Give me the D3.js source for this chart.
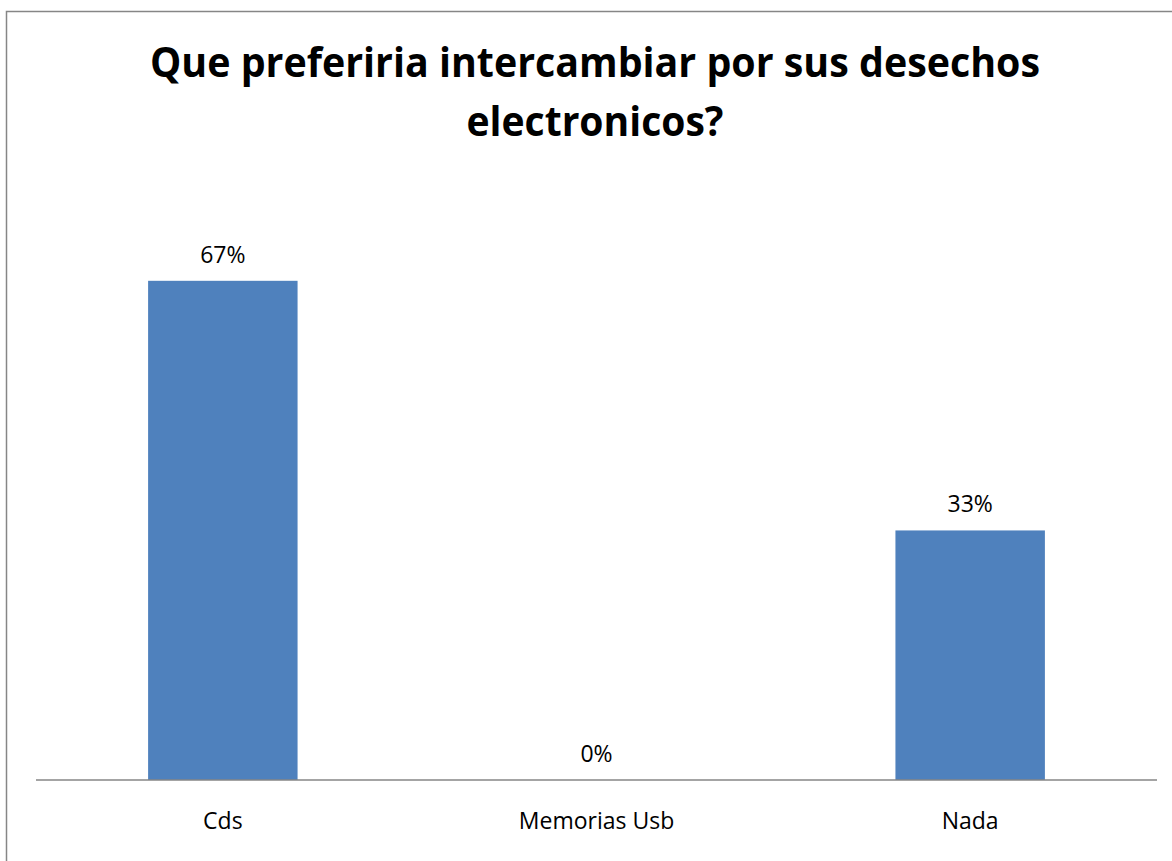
<!DOCTYPE html>
<html>
<head>
<meta charset="utf-8">
<script src="https://cdn.jsdelivr.net/npm/d3@7"></script>
<style>
  html, body { margin: 0; padding: 0; background: #ffffff; }
  svg { display: block; }
</style>
</head>
<body>
<svg id="chart" width="1172" height="861"></svg>
<script>
// Survey results: preferred exchange for electronic waste
const categories = ["Cds", "Memorias Usb", "Nada"];
const values = [0.6667, 0, 0.3333];
const valueLabels = ["67%", "0%", "33%"];
const titleLines = ["Que preferiria intercambiar por sus desechos", "electronicos?"];

const W = 1172, H = 861;
const plot = { left: 36, right: 1157, top: 181, bottom: 780 };
const barColor = "#4f81bd";
const lineColor = "#868686";
const font = "'Open Sans', 'Liberation Sans', sans-serif";

const svg = d3.select("#chart");

// Chart frame (extends past the right and bottom edges)
svg.append("rect")
  .attr("x", 6.5).attr("y", 11.5)
  .attr("width", W + 20).attr("height", H + 20)
  .attr("fill", "#ffffff")
  .attr("stroke", lineColor)
  .attr("stroke-width", 1.5);

// Title, each line fitted to its set width
const titleWidths = [890, 257];
const title = svg.append("text")
  .attr("text-anchor", "middle")
  .attr("font-family", font)
  .attr("font-weight", "bold")
  .attr("font-size", 40.5)
  .attr("fill", "#000000");
title.selectAll("tspan")
  .data(titleLines)
  .join("tspan")
  .attr("x", 595)
  .attr("y", (d, i) => 77 + i * 59)
  .attr("textLength", (d, i) => titleWidths[i])
  .attr("lengthAdjust", "spacingAndGlyphs")
  .text(d => d);

// Scales
const x = d3.scaleBand()
  .domain(categories)
  .range([plot.left, plot.right])
  .paddingInner(0.6)
  .paddingOuter(0.3);

const y = d3.scaleLinear()
  .domain([0, 0.8])
  .range([plot.bottom, plot.top]);

// Bars
svg.append("g")
  .selectAll("rect")
  .data(categories)
  .join("rect")
  .attr("x", d => x(d))
  .attr("y", (d, i) => y(values[i]))
  .attr("width", x.bandwidth())
  .attr("height", (d, i) => y(0) - y(values[i]))
  .attr("fill", barColor);

// Category axis
const xAxis = svg.append("g")
  .attr("transform", `translate(0,${plot.bottom})`)
  .call(d3.axisBottom(x).tickSize(0).tickPadding(0));
xAxis.select(".domain")
  .attr("stroke", lineColor)
  .attr("stroke-width", 1.5)
  .attr("d", `M${plot.left},0H${plot.right}`);
xAxis.selectAll(".tick text")
  .attr("font-family", font)
  .attr("font-size", 23)
  .attr("fill", "#000000")
  .attr("dy", null)
  .attr("y", 49);

// Value labels
svg.append("g")
  .selectAll("text")
  .data(categories)
  .join("text")
  .attr("x", d => x(d) + x.bandwidth() / 2)
  .attr("y", (d, i) => y(values[i]) - 18)
  .attr("text-anchor", "middle")
  .attr("font-family", font)
  .attr("font-size", 23)
  .attr("fill", "#000000")
  .text((d, i) => valueLabels[i]);
</script>
</body>
</html>
